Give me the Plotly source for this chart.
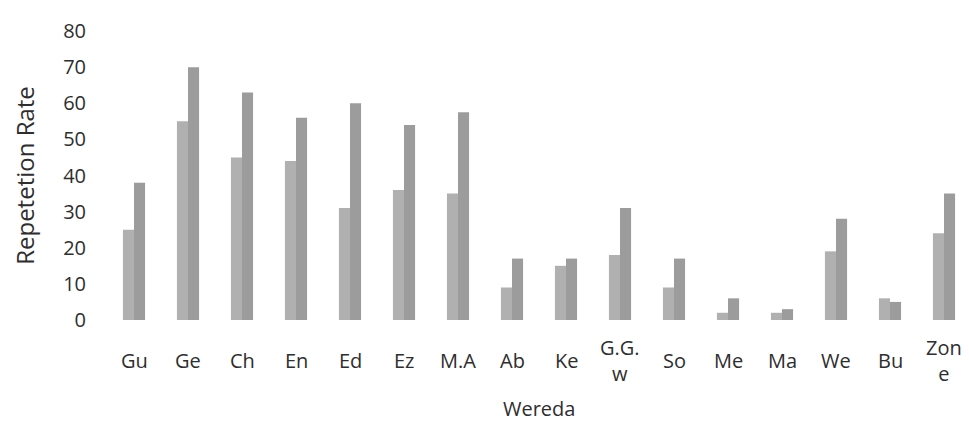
import plotly.graph_objects as go

categories = ["Gu", "Ge", "Ch", "En", "Ed", "Ez", "M.A", "Ab", "Ke", "G.G.w",
              "So", "Me", "Ma", "We", "Bu", "Zone"]
tick_labels = ["Gu", "Ge", "Ch", "En", "Ed", "Ez", "M.A", "Ab", "Ke", "G.G.<br>w",
               "So", "Me", "Ma", "We", "Bu", "Zon<br>e"]
series_1 = [25, 55, 45, 44, 31, 36, 35, 9, 15, 18, 9, 2, 2, 19, 6, 24]
series_2 = [38, 70, 63, 56, 60, 54, 57.5, 17, 17, 31, 17, 6, 3, 28, 5, 35]
y_ticks = [0, 10, 20, 30, 40, 50, 60, 70, 80]

FONT = "Open Sans"
TXT = "#2e2e2e"

fig = go.Figure()
fig.add_trace(go.Bar(x=categories, y=series_1, name="Series 1",
                     marker=dict(color="#b0b0b0", line=dict(width=0))))
fig.add_trace(go.Bar(x=categories, y=series_2, name="Series 2",
                     marker=dict(color="#9c9c9c", line=dict(width=0))))

for cat, lab in zip(categories, tick_labels):
    fig.add_annotation(x=cat, xref="x", y=0, yref="paper", yshift=-40,
                       text=lab, showarrow=False, yanchor="middle",
                       xanchor="center",
                       font=dict(family=FONT, size=20, color=TXT))

fig.add_annotation(x=0.5, xref="paper", y=0, yref="paper", yshift=-88,
                   text="Wereda", showarrow=False, yanchor="middle",
                   xanchor="center",
                   font=dict(family=FONT, size=20, color=TXT))

fig.update_layout(
    width=969, height=423,
    margin=dict(l=99, r=6, t=23, b=111),
    paper_bgcolor="white", plot_bgcolor="white",
    barmode="group", bargap=0.59, bargroupgap=0,
    showlegend=False,
    font=dict(family=FONT, size=20, color=TXT),
    xaxis=dict(showticklabels=False, showline=False, showgrid=False,
               ticks=""),
    yaxis=dict(range=[0, 80], tickvals=y_ticks, showgrid=False, showline=False,
               zeroline=False, ticks="", ticklabelstandoff=20,
               tickfont=dict(family=FONT, size=20, color=TXT),
               title=dict(text="Repetetion Rate", standoff=22,
                          font=dict(family=FONT, size=24, color=TXT))),
)
fig.write_html("out.html")
